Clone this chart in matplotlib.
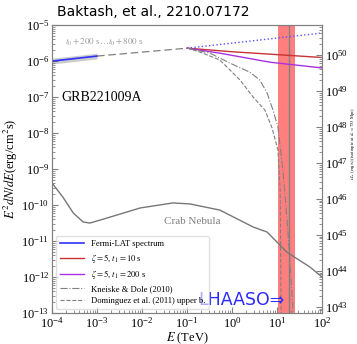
import numpy as np
import matplotlib
matplotlib.use("Agg")
import matplotlib.pyplot as plt

plt.rcParams["font.family"] = ["Liberation Serif", "DejaVu Serif"]
plt.rcParams["mathtext.fontset"] = "stix"

# log10(E/TeV) and log10(E^2 dN/dE)
fermi_logE = [-4.0, -3.0]
fermi_logF = [-6.0, -5.86]
ext_logE = [-3.0, -1.0]
ext_logF = [-5.86, -5.64]
dotted_logE = [-1.0, 2.0]
dotted_logF = [-5.64, -5.22]
red_logE = [-1.0, 0.0, 1.0, 2.0]
red_logF = [-5.64, -5.74, -5.82, -5.90]
purple_logE = [-1.0, -0.27, 0.84, 2.0]
purple_logF = [-5.64, -5.78, -6.03, -6.19]
kd_logE = [-1.0, -0.49, -0.04, 0.40, 0.62, 0.78, 0.91, 1.02, 1.13, 1.24, 1.36]
kd_logF = [-5.64, -5.78, -6.06, -6.31, -6.53, -6.89, -7.36, -7.83, -9.03, -10.69, -13.0]
dom_logE = [-1.0, -0.71, -0.27, 0.18, 0.47, 0.73, 0.89, 1.02, 1.07, 1.09]
dom_logF = [-5.64, -5.75, -5.97, -6.53, -7.0, -7.36, -7.86, -8.47, -9.58, -13.0]
crab_logE = [-4.0, -3.76, -3.53, -3.31, -3.16, -2.78, -2.04, -1.31, -0.93, -0.27,
             0.47, 0.78, 1.22, 1.73, 2.0]
crab_logF = [-9.39, -9.78, -10.22, -10.47, -10.5, -10.36, -10.08, -9.94, -9.97,
             -10.14, -10.61, -10.75, -11.31, -11.72, -12.0]
band_E = [10.5, 25.0]
lhaaso_E = 18.0

d_L = 753 * 3.086e24  # cm
iso = 4 * np.pi * d_L ** 2


def p(le, lf):
    return 10 ** np.array(le), 10 ** np.array(lf)


def style_log_axis(a):
    a.tick_params(which="both", direction="in", labelsize=9, color="grey", pad=2)
    a.tick_params(which="major", length=4)
    a.tick_params(which="minor", length=2)
    a.yaxis.set_major_locator(matplotlib.ticker.LogLocator(base=10, numticks=20))
    a.yaxis.set_minor_locator(matplotlib.ticker.LogLocator(base=10, subs=np.arange(2, 10), numticks=20))
    for s in a.spines.values():
        s.set_color("grey")


fig = plt.figure(figsize=(3.57, 3.44), dpi=100)
ax = fig.add_axes([0.146, 0.090, 0.756, 0.837])

ax.axvspan(band_E[0], band_E[1], color="#ff7f7f", zorder=0, lw=0)
ax.axvline(lhaaso_E, color="grey", lw=1.0, zorder=1)

x, y = p(fermi_logE, fermi_logF)
ax.fill_between(x, y / 10 ** 0.08, y * 10 ** 0.08, color="grey", alpha=0.4, lw=0)
ax.plot(x, y, color="#3030ff", lw=1.2, label="Fermi-LAT spectrum")
x, y = p(ext_logE, ext_logF)
ax.plot(x, y, color="grey", lw=0.9, ls=(0, (6, 3)))
x, y = p(dotted_logE, dotted_logF)
ax.plot(x, y, color="#5555ff", lw=1.0, ls=":")
x, y = p(red_logE, red_logF)
ax.plot(x, y, color="#c83232", lw=1.0, label=r"$\zeta=5$, $t_1=10$ s")
x, y = p(purple_logE, purple_logF)
ax.plot(x, y, color="#aa30e0", lw=1.0, label=r"$\zeta=5$, $t_1=200$ s")
x, y = p(kd_logE, kd_logF)
ax.plot(x, y, color="grey", lw=0.8, ls="-.", label="Kneiske & Dole (2010)")
x, y = p(dom_logE, dom_logF)
ax.plot(x, y, color="grey", lw=0.8, ls="--", label="Dominguez et al. (2011) upper b.")
x, y = p(crab_logE, crab_logF)
ax.plot(x, y, color="#777777", lw=1.0)

ax.set_xscale("log")
ax.set_yscale("log")
ax.set_xlim(1e-4, 1e2)
ax.set_ylim(1e-13, 1e-5)
style_log_axis(ax)
ax.set_xlabel(r"$E$ (TeV)", fontsize=9, labelpad=0)
ax.set_ylabel(r"$E^2dN/dE$(erg/cm$^2$s)", fontsize=9, labelpad=1)

ax2 = ax.twinx()
ax2.set_yscale("log")
ax2.set_ylim(1e-13 * iso, 1e-5 * iso)
style_log_axis(ax2)
ax2.set_ylabel(r"$\nu L_\nu$ (erg/s) (isotropic at $d_L=753$ Mpc)", fontsize=3.3)
ax2.yaxis.set_label_coords(1.095, 0.59)

ax.text(1.95e-4, 3.4e-6, r"$t_0+200$ s$\ldots t_0+800$ s", color="#999999",
        fontsize=6.5, va="center")
ax.text(1.6e-4, 8e-8, "GRB221009A", fontsize=10)
ax.text(0.13, 3.4e-11, "Crab Nebula", color="grey", fontsize=8, ha="center", va="center")
ax.text(15.0, 1.3e-13, "LHAASO\u21d2", color="#2a2aff", fontsize=12.5, ha="right",
        va="bottom", family="DejaVu Sans")

ax.legend(loc="lower left", fontsize=6.2, handlelength=2.8, framealpha=0.6,
          borderaxespad=0.5, labelspacing=0.45)

fig.text(0.16, 0.965, "Baktash, et al., 2210.07172", fontsize=10,
         family="DejaVu Sans", va="center")

fig.savefig("out.png", dpi=100)
